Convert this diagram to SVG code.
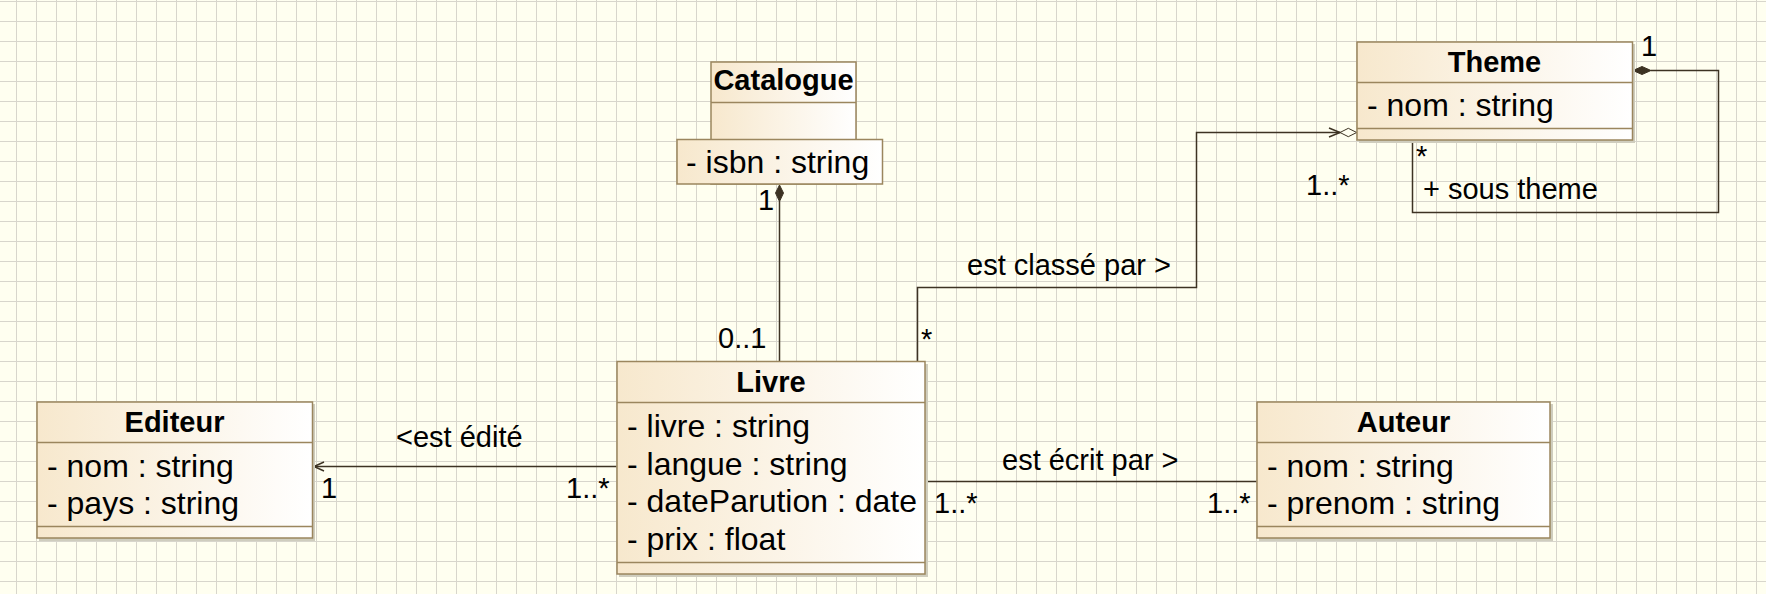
<svg xmlns="http://www.w3.org/2000/svg" width="1766" height="594" viewBox="0 0 1766 594">
<defs>
<pattern id="grid" x="0" y="0" width="20" height="20" patternUnits="userSpaceOnUse">
<path d="M16.5 0V20M0 1.5H20" stroke="#D8D6CC" stroke-width="1" fill="none"/>
</pattern>
<linearGradient id="fill" x1="0" y1="0" x2="1" y2="0">
<stop offset="0" stop-color="#F7E8CD"/>
<stop offset="1" stop-color="#FFFFFF"/>
</linearGradient>
<style>
.box{fill:url(#fill);stroke:#9B865E;stroke-width:1.5}
.shadow{fill:#CFCDBE}
.sep{stroke:#9B865E;stroke-width:1.5}
.title{font-family:"Liberation Sans",Arial,sans-serif;font-size:29px;font-weight:bold;fill:#000;text-anchor:middle}
.attr{font-family:"Liberation Sans",Arial,sans-serif;font-size:32px;fill:#000}
.lbl{font-family:"Liberation Sans",Arial,sans-serif;font-size:29px;fill:#000}
.ln{stroke:#3D3323;stroke-width:1.5;fill:none}
.fd{fill:#3D3323;stroke:#3D3323;stroke-width:1}
.hd{fill:#FFFFF0;stroke:#3D3323;stroke-width:1}
</style>
</defs>
<rect width="1766" height="594" fill="#FFFFF0"/>
<rect width="1766" height="594" fill="url(#grid)"/>

<g id="connectors">
<!-- Catalogue - Livre composition -->
<line class="ln" x1="779.5" y1="201" x2="779.5" y2="361"/>
<polygon class="fd" points="779.5,185 783.5,193 779.5,201.5 775.5,193"/>
<text class="lbl" x="758" y="210">1</text>
<text class="lbl" x="718" y="347.5">0..1</text>
<!-- Livre - Theme -->
<polyline class="ln" points="917.5,361 917.5,287.5 1196.5,287.5 1196.5,132.5 1340,132.5"/>
<polyline class="ln" points="1329,128 1340,132.5 1329,137"/>
<polygon class="hd" points="1340,132.5 1348.3,128.3 1356.7,132.5 1348.3,136.7"/>
<text class="lbl" x="967" y="275">est classé par &gt;</text>
<text class="lbl" x="1306" y="195">1..*</text>
<text class="lbl" x="921" y="349">*</text>
<!-- Theme self loop -->
<polyline class="ln" points="1651,70.5 1718.5,70.5 1718.5,212.5 1412.5,212.5 1412.5,140"/>
<polygon class="fd" points="1633,70.5 1642,66.5 1651,70.5 1642,74.5"/>
<text class="lbl" x="1641" y="56">1</text>
<text class="lbl" x="1416" y="166">*</text>
<text class="lbl" x="1423" y="198.5">+ sous theme</text>
<!-- Editeur - Livre -->
<line class="ln" x1="313" y1="466.5" x2="616.5" y2="466.5"/>
<polyline class="ln" points="324,462 314,466.5 324,471"/>
<text class="lbl" x="396" y="446.5">&lt;est édité</text>
<text class="lbl" x="321" y="498">1</text>
<text class="lbl" x="566" y="498">1..*</text>
<!-- Livre - Auteur -->
<line class="ln" x1="925" y1="481.5" x2="1256.5" y2="481.5"/>
<text class="lbl" x="1002" y="470">est écrit par &gt;</text>
<text class="lbl" x="934" y="513">1..*</text>
<text class="lbl" x="1207" y="513">1..*</text>
</g>

<g id="Catalogue">
<rect class="box" x="711" y="62" width="145" height="122"/>
<line class="sep" x1="711" y1="102.5" x2="856" y2="102.5"/>
<text class="title" x="783.5" y="90">Catalogue</text>
<rect class="box" x="677" y="139.5" width="205.5" height="44.5"/>
<text class="attr" x="686" y="173">- isbn : string</text>
</g>

<g id="Theme">
<rect class="shadow" x="1359" y="44" width="276" height="99"/>
<rect class="box" x="1357" y="42" width="275.5" height="98"/>
<line class="sep" x1="1357" y1="82.5" x2="1632.5" y2="82.5"/>
<line class="sep" x1="1357" y1="128.5" x2="1632.5" y2="128.5"/>
<text class="title" x="1494.5" y="71.5">Theme</text>
<text class="attr" x="1367" y="116">- nom : string</text>
</g>

<g id="Livre">
<rect class="shadow" x="619" y="364" width="309" height="213"/>
<rect class="box" x="617" y="361.5" width="308" height="212.5"/>
<line class="sep" x1="617" y1="402.5" x2="925" y2="402.5"/>
<line class="sep" x1="617" y1="562.5" x2="925" y2="562.5"/>
<text class="title" x="771" y="391.5">Livre</text>
<text class="attr" x="627" y="437">- livre : string</text>
<text class="attr" x="627" y="475">- langue : string</text>
<text class="attr" x="627" y="512">- dateParution : date</text>
<text class="attr" x="627" y="550">- prix : float</text>
</g>

<g id="Editeur">
<rect class="shadow" x="39" y="404" width="276" height="137"/>
<rect class="box" x="37" y="402" width="275.5" height="136"/>
<line class="sep" x1="37" y1="442.5" x2="312.5" y2="442.5"/>
<line class="sep" x1="37" y1="526.5" x2="312.5" y2="526.5"/>
<text class="title" x="174.5" y="431.5">Editeur</text>
<text class="attr" x="47" y="476.5">- nom : string</text>
<text class="attr" x="47" y="514">- pays : string</text>
</g>

<g id="Auteur">
<rect class="shadow" x="1259" y="404" width="294" height="137"/>
<rect class="box" x="1257" y="402" width="293" height="136"/>
<line class="sep" x1="1257" y1="442.5" x2="1550" y2="442.5"/>
<line class="sep" x1="1257" y1="526.5" x2="1550" y2="526.5"/>
<text class="title" x="1403.5" y="431.5">Auteur</text>
<text class="attr" x="1267" y="476.5">- nom : string</text>
<text class="attr" x="1267" y="514">- prenom : string</text>
</g>
</svg>
